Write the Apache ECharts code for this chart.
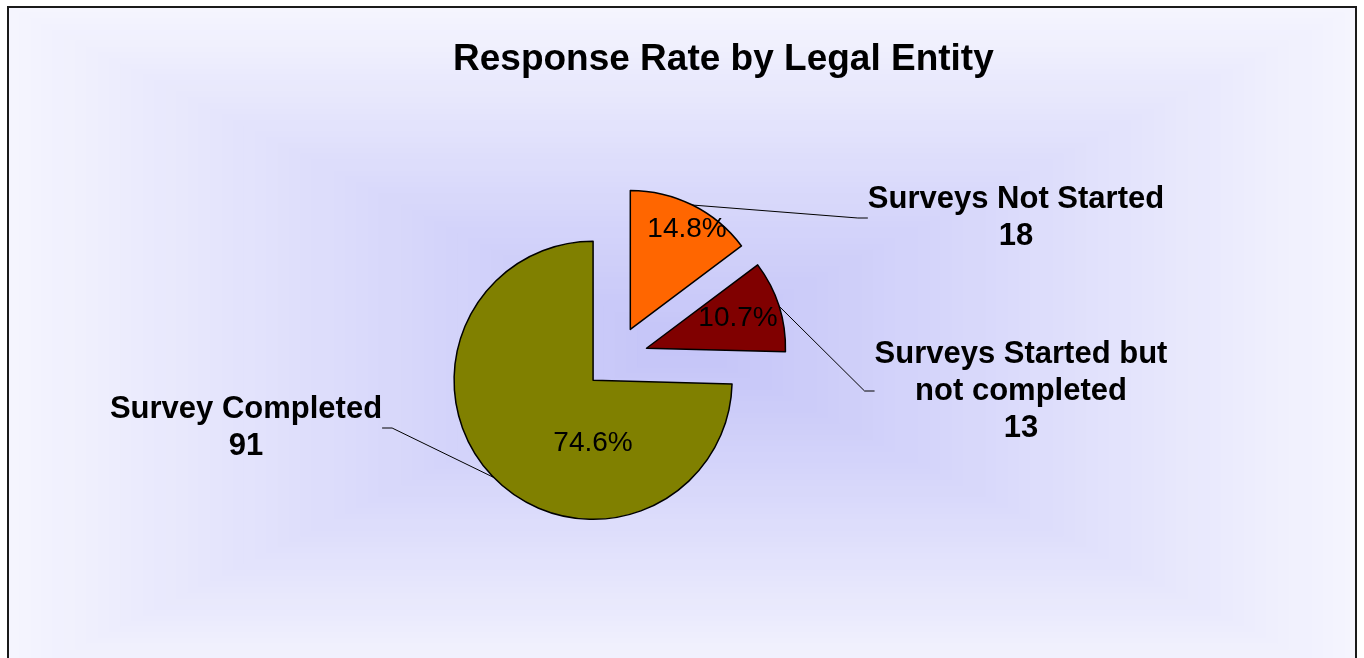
<!DOCTYPE html>
<html lang="en">
<head>
    <meta charset="UTF-8">
    <title>Response Rate by Legal Entity</title>
    <style>
        html, body { margin: 0; padding: 0; background: #fff; }
        #root { width: 1364px; height: 658px; }
    </style>
</head>
<body>
    <div id="root"></div>
    <script src="https://cdn.jsdelivr.net/npm/echarts@6/dist/echarts.min.js"></script>
    <script>
        var categories = ['Surveys Not Started', 'Surveys Started but\nnot completed', 'Survey Completed'];
        var counts = [18, 13, 91];
        var sliceColors = ['#ff6600', '#800000', '#808000'];

        // centre of each label block on the page
        var outerLabelPos = [[1016, 218], [1021, 391], [246, 428]];
        var innerLabelPos = [[687, 229], [738, 318], [593, 443]];

        var total = counts.reduce(function (a, b) { return a + b; }, 0);
        var font = "'Liberation Sans', Arial, sans-serif";

        var pieCx = 616, pieCy = 358, pieR = 139, explode = 32;

        // background: stepped rectangular gradient like the original fill
        function mix(a, b, t) {
            var r = Math.round(a[0] + (b[0] - a[0]) * t);
            var g = Math.round(a[1] + (b[1] - a[1]) * t);
            var bl = Math.round(a[2] + (b[2] - a[2]) * t);
            return 'rgb(' + r + ',' + g + ',' + bl + ')';
        }
        var bgEdge = [245, 245, 254], bgMid = [196, 196, 248];
        var bgCx = 682, bgCy = 345, bgHw = 674, bgHh = 338;
        var graphics = [];
        var steps = 60;
        for (var k = 0; k < steps; k++) {
            var s = 1 - k / steps;
            graphics.push({
                type: 'rect',
                z: -10,
                silent: true,
                shape: { x: bgCx - bgHw * s, y: bgCy - bgHh * s, width: 2 * bgHw * s, height: 2 * bgHh * s + (k === 0 ? 60 : 0) },
                style: { fill: mix(bgMid, bgEdge, Math.pow(s, 1.1)) }
            });
        }
        graphics.push({
            type: 'rect',
            z: 100,
            silent: true,
            shape: { x: 8, y: 7, width: 1348, height: 720 },
            style: { fill: 'none', stroke: '#1a1a1a', lineWidth: 2 }
        });

        // one pie per slice so each can be pulled out along its own mid angle
        var series = [];
        var cum = 0;
        counts.forEach(function (v, i) {
            var startDeg = cum / total * 360;
            var midRad = (cum + v / 2) / total * 2 * Math.PI;
            cum += v;
            var base = {
                type: 'pie',
                center: [pieCx + explode * Math.sin(midRad), pieCy - explode * Math.cos(midRad)],
                radius: pieR,
                startAngle: 90 - startDeg,
                clockwise: true,
                silent: true,
                animation: false,
                avoidLabelOverlap: false
            };
            var rest = {
                value: total - v,
                name: '',
                itemStyle: { color: 'rgba(0,0,0,0)', borderWidth: 0 },
                label: { show: false },
                labelLine: { show: false }
            };
            series.push(Object.assign({}, base, {
                z: 2,
                data: [{
                    value: v,
                    name: categories[i],
                    itemStyle: { color: sliceColors[i], borderColor: '#000', borderWidth: 1.5 }
                }, rest],
                label: {
                    show: true,
                    position: 'inside',
                    fontFamily: font,
                    fontSize: 28,
                    color: '#000',
                    formatter: function (p) {
                        return (p.value / total * 100).toFixed(1) + '%';
                    }
                },
                labelLine: { show: false },
                labelLayout: function (p) {
                    if (p.dataIndex !== 0) return {};
                    return { x: innerLabelPos[i][0], y: innerLabelPos[i][1], align: 'center', verticalAlign: 'middle' };
                }
            }));
            series.push(Object.assign({}, base, {
                z: 3,
                data: [{
                    value: v,
                    name: categories[i],
                    itemStyle: { color: 'rgba(0,0,0,0)', borderWidth: 0 }
                }, rest],
                label: {
                    show: true,
                    position: 'outside',
                    fontFamily: font,
                    fontSize: 31,
                    fontWeight: 'bold',
                    lineHeight: 37,
                    color: '#000',
                    formatter: '{b}\n{c}'
                },
                labelLine: {
                    show: true,
                    length: 20,
                    length2: 10,
                    lineStyle: { color: '#000', width: 1 }
                },
                labelLayout: function (p) {
                    if (p.dataIndex !== 0) return {};
                    return { x: outerLabelPos[i][0], y: outerLabelPos[i][1], align: 'center', verticalAlign: 'middle' };
                }
            }));
        });

        var option = {
            backgroundColor: '#fff',
            animation: false,
            title: {
                text: 'Response Rate by Legal Entity',
                left: 448,
                top: 36,
                textStyle: { fontFamily: font, fontSize: 37, fontWeight: 'bold', color: '#000' }
            },
            graphic: graphics,
            series: series
        };

        var chart = echarts.init(document.getElementById('root'));
        chart.setOption(option);
    </script>
</body>
</html>
